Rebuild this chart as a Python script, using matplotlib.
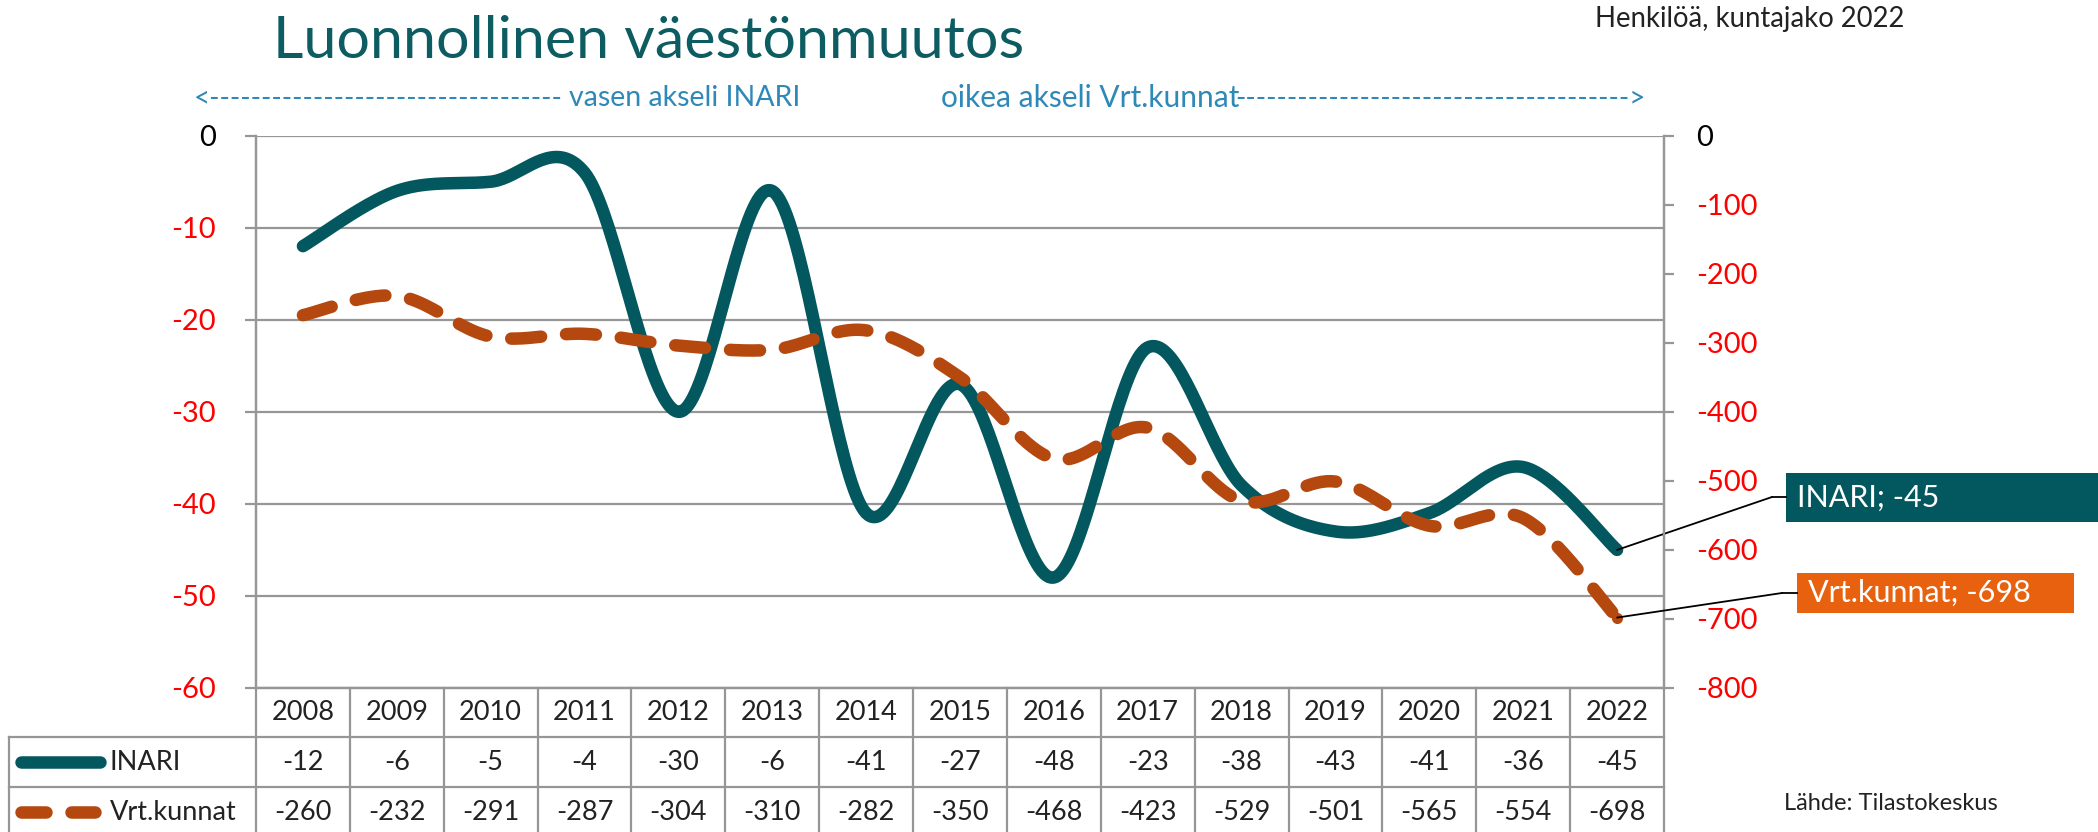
import numpy as np
import matplotlib
matplotlib.use("Agg")
import matplotlib.pyplot as plt
from matplotlib.transforms import blended_transform_factory
from matplotlib.lines import Line2D
from matplotlib.patches import Rectangle

plt.rcParams['font.family'] = ['Lato', 'DejaVu Sans']

# ---------------- data ----------------
years = ["2008", "2009", "2010", "2011", "2012", "2013", "2014", "2015",
         "2016", "2017", "2018", "2019", "2020", "2021", "2022"]
inari = [-12, -6, -5, -4, -30, -6, -41, -27, -48, -23, -38, -43, -41, -36, -45]
vrt = [-260, -232, -291, -287, -304, -310, -282, -350, -468, -423, -529,
       -501, -565, -554, -698]
series_names = ["INARI", "Vrt.kunnat"]
left_ticks = [0, -10, -20, -30, -40, -50, -60]
right_ticks = [0, -100, -200, -300, -400, -500, -600, -700, -800]

# ---------------- style ----------------
W, H = 2098, 832
TEAL = '#02585E'
ORANGE_LINE = '#B4480E'
ORANGE_BOX = '#E8610F'
GRID = '#969696'
BLUE = '#2E88B8'
TITLE = '#0C5C62'


def fx(px):
    return px / W


def fy(py):
    return 1 - py / H


def smooth(xs, ys, n=40):
    P = np.column_stack([xs, ys]).astype(float)
    out = []
    for i in range(len(P) - 1):
        p0 = P[i - 1] if i > 0 else P[i]
        p1, p2 = P[i], P[i + 1]
        p3 = P[i + 2] if i + 2 < len(P) else P[i + 1]
        c1 = p1 + (p2 - p0) / 6.0
        c2 = p2 - (p3 - p1) / 6.0
        t = np.linspace(0, 1, n)[:, None]
        seg = ((1 - t) ** 3) * p1 + 3 * ((1 - t) ** 2) * t * c1 + 3 * (1 - t) * (t ** 2) * c2 + (t ** 3) * p2
        out.append(seg if i == 0 else seg[1:])
    return np.vstack(out)


fig = plt.figure(figsize=(W / 100, H / 100), dpi=100)
ax_left, ax_right, ax_top, ax_bot = 256, 1664, 135.7, 688
ax = fig.add_axes([fx(ax_left), fy(ax_bot), fx(ax_right - ax_left), (ax_bot - ax_top) / H])
ax2 = ax.twinx()

x = np.arange(len(years))
ax.set_xlim(-0.5, len(years) - 0.5)
ax.set_ylim(-60, 0)
ax2.set_ylim(-800, 0)

# gridlines (left axis)
ax.set_yticks(left_ticks)
ax.set_yticklabels([str(v) for v in left_ticks])
ax.yaxis.grid(True, color=GRID, lw=1.6)
ax.set_axisbelow(True)
ax.set_xticks([])
for lbl, v in zip(ax.get_yticklabels(), left_ticks):
    lbl.set_color('black' if v == 0 else '#FF0000')
ax.tick_params(axis='y', direction='out', length=8, width=1.6, color=GRID,
               labelsize=21, pad=21)

ax2.set_yticks(right_ticks)
ax2.set_yticklabels([str(v) for v in right_ticks])
for lbl, v in zip(ax2.get_yticklabels(), right_ticks):
    lbl.set_color('black' if v == 0 else '#FF0000')
ax2.tick_params(axis='y', direction='out', length=7, width=1.6, color=GRID,
                labelsize=21, pad=16)

for a in (ax, ax2):
    for s in a.spines.values():
        s.set_color(GRID)
        s.set_linewidth(1.6)
    a.spines['top'].set_visible(False)

# curves
sm1 = smooth(x, inari)
ax.plot(sm1[:, 0], sm1[:, 1], color=TEAL, lw=9, solid_capstyle='round', zorder=3)
sm2 = smooth(x, vrt)
ax2.plot(sm2[:, 0], sm2[:, 1], color=ORANGE_LINE, lw=9, dashes=(2.4, 2.0),
         dash_capstyle='round', zorder=3)
ax2.plot([x[-1]], [vrt[-1]], 'o', color=ORANGE_LINE, ms=7, zorder=3)

# ---------------- data table ----------------
trans = blended_transform_factory(ax.transData, fig.transFigure)
row_y = [688, 737, 787, 837]
for k in range(len(years) + 1):
    ax.plot([k - 0.5, k - 0.5], [fy(688), fy(845)], transform=trans, color=GRID,
            lw=1.6, clip_on=False)
for yy in row_y[1:3]:
    fig.add_artist(Line2D([fx(9), fx(ax_right)], [fy(yy), fy(yy)], color=GRID, lw=1.6))
fig.add_artist(Line2D([fx(9), fx(9)], [fy(737), fy(845)], color=GRID, lw=1.6))

for i, yr in enumerate(years):
    ax.text(i, fy(713), yr, transform=trans, ha='center', va='center', fontsize=19.5,
            color='#222222')
    ax.text(i, fy(763), str(inari[i]), transform=trans, ha='center', va='center',
            fontsize=19.5, color='#222222')
    ax.text(i, fy(813), str(vrt[i]), transform=trans, ha='center', va='center',
            fontsize=19.5, color='#222222')

# legend keys in table
fig.add_artist(Line2D([fx(21), fx(100)], [fy(762), fy(762)], color=TEAL, lw=9,
                      solid_capstyle='round'))
fig.add_artist(Line2D([fx(21), fx(46)], [fy(812), fy(812)], color=ORANGE_LINE, lw=9,
                      solid_capstyle='round'))
fig.add_artist(Line2D([fx(71), fx(95)], [fy(812), fy(812)], color=ORANGE_LINE, lw=9,
                      solid_capstyle='round'))
fig.text(fx(110), fy(763), series_names[0], ha='left', va='center', fontsize=19.5,
         color='#222222')
fig.text(fx(110), fy(813), series_names[1], ha='left', va='center', fontsize=19.5,
         color='#222222')

# ---------------- data labels ----------------
fig.add_artist(Rectangle((fx(1786), fy(522)), fx(2110 - 1786), (522 - 473) / H,
                         facecolor=TEAL, edgecolor='none'))
fig.text(fx(1797), fy(498), f"{series_names[0]}; {inari[-1]}", ha='left', va='center',
         fontsize=22, color='white')
fig.add_artist(Rectangle((fx(1797), fy(613)), fx(2074 - 1797), (613 - 573) / H,
                         facecolor=ORANGE_BOX, edgecolor='none'))
fig.text(fx(1808), fy(593), f"{series_names[1]}; {vrt[-1]}", ha='left', va='center',
         fontsize=22, color='white')

ax.annotate('', xy=(x[-1], inari[-1]), xycoords='data',
            xytext=(fx(1772), fy(497)), textcoords='figure fraction',
            arrowprops=dict(arrowstyle='-', color='black', lw=1.3, shrinkA=0, shrinkB=0),
            annotation_clip=False)
fig.add_artist(Line2D([fx(1772), fx(1786)], [fy(497), fy(497)], color='black', lw=1.3))
ax2.annotate('', xy=(x[-1], vrt[-1]), xycoords='data',
             xytext=(fx(1782), fy(593)), textcoords='figure fraction',
             arrowprops=dict(arrowstyle='-', color='black', lw=1.3, shrinkA=0, shrinkB=0),
             annotation_clip=False)
fig.add_artist(Line2D([fx(1782), fx(1797)], [fy(593), fy(593)], color='black', lw=1.3))

# ---------------- texts ----------------
fig.text(fx(273), fy(41), "Luonnollinen väestönmuutos", ha='left', va='center',
         fontsize=42.7, color=TITLE)
fig.text(fx(1595), fy(19), "Henkilöä, kuntajako 2022", ha='left', va='center',
         fontsize=19.8, color='#222222')
fig.text(fx(194), fy(98), "<" + "-" * 34, ha='left', va='center', fontsize=20,
         color=BLUE)
fig.text(fx(569), fy(98), "vasen akseli INARI", ha='left', va='center', fontsize=20.5,
         color=BLUE)
fig.text(fx(941), fy(98), "oikea akseli Vrt.kunnat", ha='left', va='center',
         fontsize=21.5, color=BLUE)
fig.text(fx(1646), fy(98), "-" * 38 + ">", ha='right', va='center', fontsize=20,
         color=BLUE)
fig.text(fx(1784), fy(803), "Lähde: Tilastokeskus", ha='left', va='center',
         fontsize=17, color='#222222')

fig.savefig("out.png", dpi=100)
